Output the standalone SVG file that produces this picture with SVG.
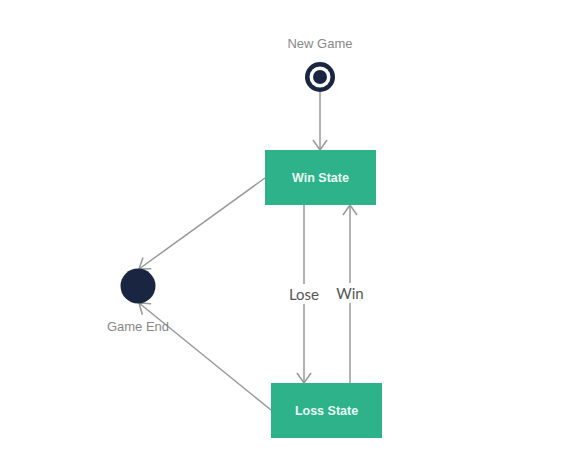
<svg xmlns="http://www.w3.org/2000/svg" width="563" height="451" viewBox="0 0 563 451">
<defs>
<marker id="arr" viewBox="0 0 12 16" refX="11" refY="8" markerWidth="12" markerHeight="16" markerUnits="userSpaceOnUse" orient="auto">
<path d="M1,1 L11,8 L1,15" fill="none" stroke="#999" stroke-width="1.5"/>
</marker>
<style>
.edge{stroke:#999;stroke-width:1.5;fill:none;marker-end:url(#arr)}
.state{fill:#2db28a}
.stext{font-family:"Liberation Sans",Arial,sans-serif;font-size:12.5px;font-weight:bold;fill:#eafaf3;text-anchor:middle}
.lbl{font-family:"Liberation Sans",Arial,sans-serif;font-size:13px;fill:#888;text-anchor:middle}
.elbl{font-family:Lato,"Liberation Sans",sans-serif;font-size:15px;fill:#555;text-anchor:middle}
</style>
</defs>
<rect width="563" height="451" fill="#fff"/>
<g id="connectors">
<line class="edge" x1="320" y1="92" x2="320" y2="150"/>
<line class="edge" x1="304" y1="205" x2="304" y2="383"/>
<line class="edge" x1="350" y1="383" x2="350" y2="205"/>
<line class="edge" x1="265" y1="178" x2="139" y2="269"/>
<line class="edge" x1="271" y1="410" x2="139" y2="303"/>
<rect x="286" y="284" width="36" height="20" fill="#fff"/>
<rect x="334" y="283" width="32" height="20" fill="#fff"/>
<text class="elbl" x="304" y="300">Lose</text>
<text class="elbl" x="350" y="299">Win</text>
</g>
<g id="new-game">
<circle cx="320" cy="77" r="15" fill="#1a2542"/>
<circle cx="320" cy="77" r="10.5" fill="#fff"/>
<circle cx="320" cy="77" r="7" fill="#1a2542"/>
<text class="lbl" x="320" y="48">New Game</text>
</g>
<g id="win-state">
<rect class="state" x="265" y="150" width="111" height="55"/>
<text class="stext" x="320.5" y="182">Win State</text>
</g>
<g id="loss-state">
<rect class="state" x="271" y="383" width="111" height="55"/>
<text class="stext" x="326.5" y="415">Loss State</text>
</g>
<g id="game-end">
<circle cx="138" cy="286" r="17.5" fill="#1a2542"/>
<text class="lbl" x="138" y="331">Game End</text>
</g>
</svg>
